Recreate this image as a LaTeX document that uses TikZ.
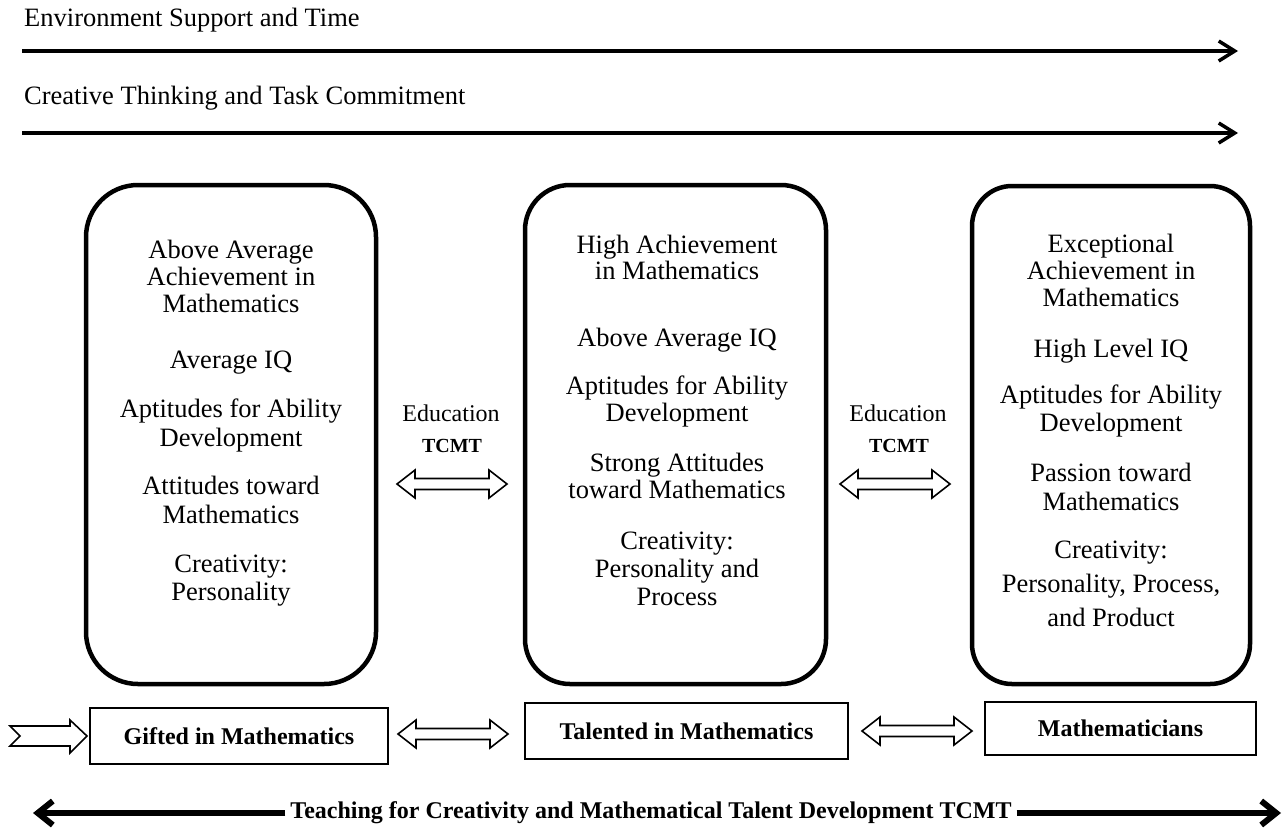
\documentclass[tikz,border=0pt]{standalone}
\usepackage{fontspec}
\setmainfont{Liberation Serif}
\usetikzlibrary{arrows.meta,calc}
\begin{document}
\begin{tikzpicture}[x=1pt,y=-1pt,
  toplbl/.style={font=\fontsize{26.5}{27}\selectfont, anchor=base west, inner sep=0pt},
  ln/.style={font=\fontsize{26.5}{27}\selectfont, anchor=base, inner sep=0pt},
  edu/.style={font=\fontsize{24}{26}\selectfont, anchor=base, inner sep=0pt},
  tcmt/.style={font=\bfseries\fontsize{20}{22}\selectfont, anchor=base, inner sep=0pt},
  rbox/.style={draw, line width=4.5pt, rectangle, inner sep=0pt},
  lvl/.style={draw, line width=1.8pt, rectangle, inner sep=0pt, font=\bfseries\fontsize{24}{26}\selectfont},
  toparr/.style={line width=3.5pt, -{Straight Barb[length=16pt,width=20pt]}},
  bigarr/.style={line width=6pt, -{Straight Barb[length=15pt,width=24pt]}},
  hollow/.style={draw, line width=1.6pt, line join=miter},
  hdbl/.pic={\draw[hollow] (-55,0) -- (-37,-14) -- (-37,-5.5) -- (37,-5.5) -- (37,-14) -- (55,0) -- (37,14) -- (37,5.5) -- (-37,5.5) -- (-37,14) -- cycle;}
]
\useasboundingbox (0,0) rectangle (1284,828);

% top labels and arrows
\node[toplbl] (envlbl) at (24,26) {Environment Support and Time};
\coordinate (env0) at (22,51);
\coordinate (env1) at (1238,51);
\draw[toparr] (env0) -- (env1);
\node[toplbl] (crlbl) at (24,104) {Creative Thinking and Task Commitment};
\coordinate (cr0) at (22,133);
\coordinate (cr1) at (1238,133);
\draw[toparr] (cr0) -- (cr1);

% rounded boxes
\node[rbox, minimum width=290pt, minimum height=499pt, rounded corners=52pt] (b1) at (231,434.5) {};
\node[rbox, minimum width=301pt, minimum height=499pt, rounded corners=45pt] (b2) at (675.5,434.5) {};
\node[rbox, minimum width=278pt, minimum height=498pt, rounded corners=40pt] (b3) at (1111,435) {};

% box 1 text
\node[ln] (a1) at (231,258) {Above Average};
\node[ln] (a2) at (231,285) {Achievement in};
\node[ln] (a3) at (231,312) {Mathematics};
\node[ln] (a4) at (231,368) {Average IQ};
\node[ln] (a5) at (231,417) {Aptitudes for Ability};
\node[ln] (a6) at (231,446) {Development};
\node[ln] (a7) at (231,494) {Attitudes toward};
\node[ln] (a8) at (231,523) {Mathematics};
\node[ln] (a9) at (231,572) {Creativity:};
\node[ln] (a10) at (231,600) {Personality};

% box 2 text
\node[ln] (c1) at (677,253) {High Achievement};
\node[ln] (c2) at (677,279) {in Mathematics};
\node[ln] (c3) at (677,346) {Above Average IQ};
\node[ln] (c4) at (677,394) {Aptitudes for Ability};
\node[ln] (c5) at (677,421) {Development};
\node[ln] (c6) at (677,471) {Strong Attitudes};
\node[ln] (c7) at (677,498) {toward Mathematics};
\node[ln] (c8) at (677,549) {Creativity:};
\node[ln] (c9) at (677,577) {Personality and};
\node[ln] (c10) at (677,605) {Process};

% box 3 text
\node[ln] (d1) at (1111,252) {Exceptional};
\node[ln] (d2) at (1111,279) {Achievement in};
\node[ln] (d3) at (1111,306) {Mathematics};
\node[ln] (d4) at (1111,357) {High Level IQ};
\node[ln] (d5) at (1111,403) {Aptitudes for Ability};
\node[ln] (d6) at (1111,431) {Development};
\node[ln] (d7) at (1111,481) {Passion toward};
\node[ln] (d8) at (1111,510) {Mathematics};
\node[ln] (d9) at (1111,558) {Creativity:};
\node[ln] (d10) at (1111,592) {Personality, Process,};
\node[ln] (d11) at (1111,626) {and Product};

% education labels and arrows
\node[edu] (e1) at (451,421) {Education};
\node[tcmt] (t1) at (452,452) {TCMT};
\pic at (452,484) {hdbl};
\node[edu] (e2) at (898,421) {Education};
\node[tcmt] (t2) at (899,452) {TCMT};
\pic at (895,484) {hdbl};

% level boxes
\node[lvl, minimum width=298pt, minimum height=56pt] (gift) at (239,736) {Gifted in Mathematics};
\node[lvl, minimum width=323pt, minimum height=56pt] (tal) at (686.5,731) {Talented in Mathematics};
\node[lvl, minimum width=271pt, minimum height=53pt] (math) at (1120.5,728.5) {Mathematicians};

\pic at (453,734) {hdbl};
\pic at (917,731) {hdbl};

% entry arrow (notched)
\draw[hollow] (10,726) -- (70,726) -- (70,720) -- (87,736) -- (70,753) -- (70,746) -- (10,746) -- (20,736) -- cycle;

% bottom arrow
\node[font=\bfseries\fontsize{24}{26}\selectfont, fill=white, inner xsep=5pt, inner ysep=2pt] (teach) at (651,813) {Teaching for Creativity and Mathematical Talent Development TCMT};
\coordinate (tl) at (33,813);
\coordinate (tr) at (1281,813);
\draw[bigarr] (teach.west) -- (tl);
\draw[bigarr] (teach.east) -- (tr);
\end{tikzpicture}
\end{document}
